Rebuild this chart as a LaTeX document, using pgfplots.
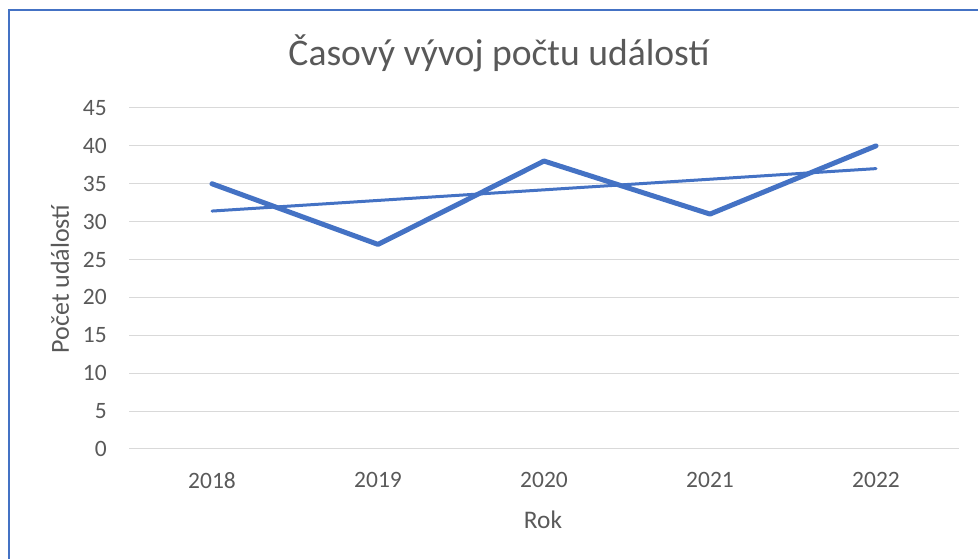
\documentclass[border=0pt]{standalone}
\usepackage{fontspec}
\setmainfont{Carlito}
\usepackage{pgfplots}
\pgfplotsset{compat=1.18}
\definecolor{exblue}{HTML}{4472C4}
\definecolor{txt}{HTML}{595959}
\definecolor{gridc}{HTML}{D9D9D9}
\begin{document}
\begin{tikzpicture}[x=0.75pt,y=0.75pt]
\useasboundingbox (0,0) rectangle (978,559);
\draw[exblue, line width=1.5pt] (9,-2) -- (9,549) -- (980,549);
\begin{axis}[
  at={(96.75pt,82.5pt)}, anchor=south west,
  scale only axis, width=622.5pt, height=255.75pt,
  xmin=2017.5, xmax=2022.5, ymin=0, ymax=45,
  ytick={0,5,...,45},
  xtick={2018,2019,2020,2021,2022},
  xticklabels={2018,2019,2020,2021,2022},
  axis line style={draw=none},
  major tick length=0pt,
  ymajorgrids, grid style={gridc, line width=0.75pt},
  /pgf/number format/assume math mode=true,
  tick label style={font=\fontsize{17.6}{20}\selectfont, text=txt, inner sep=0pt},
  yticklabel style={anchor=east, xshift=-16.5pt},
  xticklabel style={anchor=north, yshift=-17.25pt},
  title={Časový vývoj počtu událostí},
  title style={font=\fontsize{28.2}{32}\selectfont, text=txt, at={(rel axis cs:0.4458,1.1026)}, anchor=base, inner sep=0pt},
  xlabel={Rok},
  xlabel style={font=\fontsize{19}{22}\selectfont, text=txt, at={(rel axis cs:0.4988,-0.2317)}, anchor=base, inner sep=0pt},
  ylabel={Počet událostí},
  ylabel style={font=\fontsize{19.5}{22}\selectfont, text=txt, at={(rel axis cs:-0.0723,0.4985)}, anchor=base, inner sep=0pt},
  clip=false,
]
\addplot[exblue, line width=3.75pt, line join=round, line cap=round] coordinates {(2018,35) (2019,27) (2020,38) (2021,31) (2022,40)};
\addplot[exblue, line width=2.25pt, line cap=round] coordinates {(2018,31.4) (2022,37.0)};
\end{axis}
\end{tikzpicture}
\end{document}
